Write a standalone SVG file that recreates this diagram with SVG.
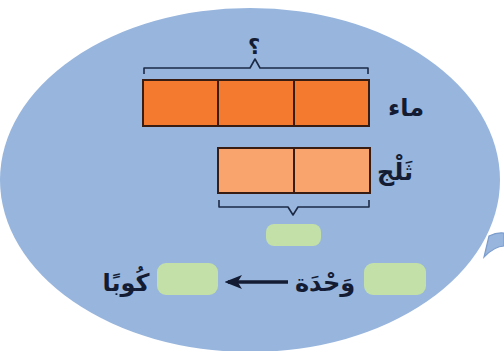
<svg xmlns="http://www.w3.org/2000/svg" width="504" height="351" viewBox="0 0 504 351">
<style>
.bar{stroke:#3a1d12;stroke-width:2}
.dark{fill:#f47a30}
.light{fill:#f9a46c}
.brace{fill:none;stroke:#1d2a45;stroke-width:1.6;stroke-linejoin:round}
.box{fill:#c2e0a8;stroke:none}
.lbl{font-family:"DejaVu Sans",sans-serif;font-weight:bold;font-size:21px;fill:#141c33;text-anchor:middle}
.big{font-size:24px}
</style>
<defs>
<marker id="ah" viewBox="0 0 10 10" refX="8" refY="5" markerWidth="5" markerHeight="4" orient="auto" markerUnits="strokeWidth" preserveAspectRatio="none">
<path d="M10,5 L0,0 L2.5,5 L0,10 Z" fill="#141c33"/>
</marker>
</defs>
<rect width="504" height="351" fill="#ffffff"/>
<g id="bubble">
<ellipse cx="250" cy="180" rx="250" ry="172" fill="#97b5dd"/>
<path d="M489,236 Q497,232 504,233 L504,246 Q495,246 484,257 Z" fill="#97b5dd" stroke="#7b9ccc" stroke-width="1.2"/>
</g>
<g id="water">
<rect class="bar dark" x="143" y="80" width="75" height="46"/>
<rect class="bar dark" x="218" y="80" width="76" height="46"/>
<rect class="bar dark" x="294" y="80" width="75" height="46"/>
<text class="lbl big" x="406" y="116">ماء</text>
</g>
<g id="ice">
<rect class="bar light" x="218" y="148" width="76" height="45"/>
<rect class="bar light" x="294" y="148" width="76" height="45"/>
<text class="lbl big" x="395" y="180">ثَلْج</text>
</g>
<g id="total">
<path class="brace" d="M144,74 V68 H250 L255,59 L260,68 H368 V74"/>
<text class="lbl" x="254" y="54" font-size="25">؟</text>
</g>
<g id="ice-brace">
<path class="brace" d="M219,200 V207 H288 L293,215 L298,207 H369 V200"/>
<rect class="box" x="266" y="224" width="55" height="22" rx="8"/>
</g>
<g id="unit">
<rect class="box" x="364" y="263" width="62" height="32" rx="9"/>
<text class="lbl big" x="325" y="291">وَحْدَة</text>
</g>
<g id="cups">
<rect class="box" x="157" y="263" width="61" height="32" rx="9"/>
<text class="lbl big" x="126" y="291">كُوبًا</text>
</g>
<g id="connectors">
<line x1="288" y1="282" x2="228" y2="282" stroke="#141c33" stroke-width="3.5" marker-end="url(#ah)"/>
</g>
</svg>
